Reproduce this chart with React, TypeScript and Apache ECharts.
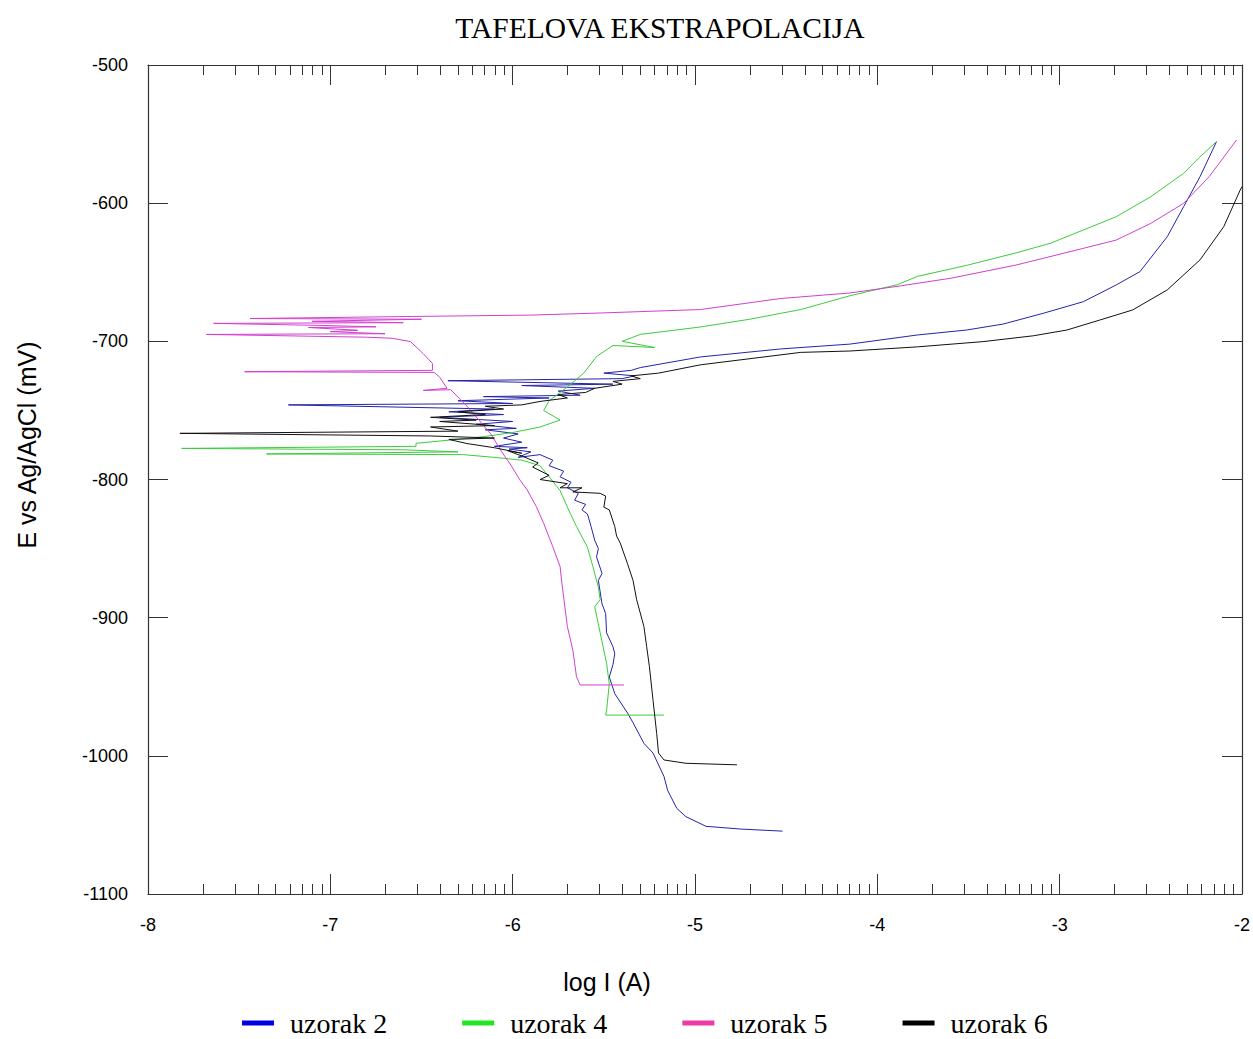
import React, { useEffect, useRef } from "react";
import * as echarts from "echarts";

// ---- Data (log I [A], E [mV]) in scan order ----
const uzorak2: number[][] = [
  [-4.52, -1054.5], [-4.75, -1053], [-4.94, -1051], [-5.05, -1044], [-5.1, -1038],
  [-5.15, -1025], [-5.17, -1015], [-5.23, -998], [-5.28, -991], [-5.34, -976],
  [-5.37, -969], [-5.44, -955], [-5.47, -943], [-5.45, -934], [-5.44, -926],
  [-5.45, -921], [-5.485, -911], [-5.49, -897], [-5.51, -890], [-5.53, -873],
  [-5.51, -868], [-5.54, -856], [-5.53, -850], [-5.55, -844], [-5.57, -834],
  [-5.59, -825], [-5.62, -822], [-5.6, -818], [-5.66, -815], [-5.64, -810],
  [-5.7, -806], [-5.68, -802], [-5.74, -798], [-5.72, -794], [-5.8, -790],
  [-5.78, -786], [-5.85, -782], [-5.97, -784],
  [-5.9, -780], [-6.02, -778], [-5.92, -777], [-6.1, -776], [-5.95, -773],
  [-6.05, -770], [-5.97, -767], [-6.15, -764], [-5.98, -763], [-6.2, -760],
  [-6.0, -758], [-6.4, -755], [-6.05, -753], [-6.35, -751], [-6.1, -749],
  [-7.23, -746], [-6.0, -745], [-6.3, -743], [-5.8, -741], [-6.16, -740],
  [-5.63, -739], [-5.75, -736], [-5.55, -734], [-5.95, -732], [-5.45, -731],
  [-6.355, -728.5], [-5.4, -727], [-5.33, -725], [-5.5, -723], [-5.35, -721],
  [-5.3, -719], [-4.97, -711.3], [-4.53, -705.5], [-4.15, -702], [-3.78, -695.4],
  [-3.51, -691.8], [-3.31, -687.5], [-3.09, -679.7], [-2.87, -671.3], [-2.69, -659.2],
  [-2.56, -649.6], [-2.41, -624.3], [-2.32, -602.5], [-2.23, -580.8], [-2.14, -555.5],
];

const uzorak4: number[][] = [
  [-5.17, -970.5], [-5.49, -970.5], [-5.485, -967], [-5.47, -948], [-5.485, -933],
  [-5.52, -911], [-5.55, -892], [-5.52, -887], [-5.53, -878], [-5.56, -863],
  [-5.59, -849], [-5.65, -834], [-5.7, -820], [-5.74, -808], [-5.8, -798],
  [-5.85, -790], [-5.95, -786], [-6.1, -784], [-6.27, -782], [-7.35, -781.5],
  [-6.3, -780], [-6.6, -778.5], [-7.815, -777.5], [-6.53, -776], [-6.53, -773.8],
  [-6.34, -771.4], [-6.16, -769], [-6.0, -766], [-5.85, -762], [-5.74, -757],
  [-5.83, -750], [-5.8, -743], [-5.7, -733], [-5.61, -723], [-5.54, -711],
  [-5.45, -703], [-5.22, -704.5], [-5.4, -700], [-5.3, -695], [-4.97, -689.6],
  [-4.7, -684], [-4.42, -677], [-4.15, -667], [-3.89, -659], [-3.78, -653],
  [-3.51, -645], [-3.24, -636], [-3.05, -629], [-2.87, -619.4], [-2.69, -609.8],
  [-2.5, -595.3], [-2.32, -578.4], [-2.23, -566.4], [-2.14, -555.5],
];

const uzorak5: number[][] = [
  [-5.39, -948.7], [-5.63, -948.7], [-5.65, -942.7], [-5.66, -933], [-5.67, -923.4],
  [-5.7, -906.5], [-5.73, -875], [-5.74, -863], [-5.78, -848.6], [-5.83, -831.7],
  [-5.87, -819.7], [-5.92, -807.6], [-5.96, -800.4], [-6.01, -789.5], [-6.06, -780],
  [-6.12, -767], [-6.25, -747], [-6.34, -735], [-6.49, -735.5], [-6.36, -734],
  [-6.4, -726], [-6.43, -722.5], [-7.47, -722], [-6.44, -721], [-6.44, -716],
  [-6.49, -709], [-6.56, -700.2], [-6.66, -697.8], [-6.8, -697], [-7.68, -695],
  [-6.7, -694.5], [-7.0, -693], [-6.85, -692], [-7.12, -690], [-6.75, -689.5],
  [-7.05, -688.5], [-7.64, -687], [-6.6, -686.5], [-7.1, -685.5], [-6.5, -684],
  [-7.44, -683.5], [-6.55, -682], [-5.9, -681], [-5.52, -679.5], [-4.97, -677],
  [-4.53, -669], [-4.15, -665], [-3.88, -660], [-3.6, -654.4], [-3.24, -644.8],
  [-2.87, -632.7], [-2.69, -626.7], [-2.5, -614.6], [-2.32, -600.1], [-2.18, -580.8],
  [-2.03, -554.3],
];

const uzorak6: number[][] = [
  [-4.77, -1006.5], [-5.05, -1005.4], [-5.17, -1003], [-5.2, -998], [-5.21, -984],
  [-5.23, -960], [-5.25, -935.5], [-5.265, -921], [-5.28, -906.5], [-5.32, -887],
  [-5.34, -873], [-5.37, -861], [-5.41, -846], [-5.43, -841], [-5.44, -834],
  [-5.47, -822], [-5.5, -820], [-5.49, -812], [-5.52, -810], [-5.67, -809],
  [-5.62, -806], [-5.74, -806], [-5.7, -803], [-5.85, -800], [-5.8, -797],
  [-5.89, -791], [-5.86, -788], [-5.94, -783.5], [-6.03, -779],
  [-5.95, -781], [-6.1, -777], [-6.25, -774], [-6.35, -771], [-6.1, -770],
  [-6.45, -768.5], [-7.825, -766.6], [-6.3, -765], [-6.45, -762], [-6.1, -761],
  [-6.4, -758], [-6.2, -757], [-6.45, -755], [-6.15, -753], [-6.3, -751],
  [-6.05, -749], [-6.15, -747], [-5.95, -746], [-5.85, -743.5], [-5.7, -741],
  [-5.75, -738.5], [-5.6, -737], [-5.55, -734], [-5.4, -731], [-5.45, -729],
  [-5.3, -727], [-5.35, -725], [-5.2, -723], [-4.97, -717], [-4.42, -708],
  [-4.15, -707], [-3.78, -704], [-3.42, -700.2], [-3.145, -696], [-2.96, -691.8],
  [-2.78, -684.6], [-2.6, -677.3], [-2.41, -662.8], [-2.23, -641], [-2.1, -617],
  [-2.01, -590.5], [-2.0, -588],
];

const seriesNames = ["uzorak 2", "uzorak 4", "uzorak 5", "uzorak 6"];
const seriesData = [uzorak2, uzorak4, uzorak5, uzorak6];
const lineColors = ["#2424a8", "#3ccc3c", "#d040d0", "#111111"];
const legendColors = ["#0000e0", "#22e622", "#ee3aa8", "#000000"];

const xMin = -8;
const xMax = -2;
const yMin = -1100;
const yMax = -500;
const decades = [-8, -7, -6, -5, -4, -3];
const minorMultipliers = [2, 3, 4, 5, 6, 7, 8, 9];
const minorTickValues: number[] = [];
decades.forEach((d) => minorMultipliers.forEach((m) => minorTickValues.push(d + Math.log10(m))));

export default function App() {
  const ref = useRef<HTMLDivElement>(null);
  useEffect(() => {
    if (!ref.current) return;
    const chart = echarts.init(ref.current, undefined, { renderer: "svg" });
    const axisLine = { show: true, lineStyle: { color: "#333", width: 1.2 } };
    const tickStyle = { color: "#333", width: 1 };
    const sans = "'Liberation Sans', Arial, sans-serif";
    const serif = "'Liberation Serif', 'Times New Roman', serif";
    const plain = (v: number) => String(v);
    const gridBox = { left: 148, right: 11, top: 65, bottom: 145, containLabel: false, outerBoundsMode: "none" };
    const option: any = {
      animation: false,
      backgroundColor: "#fff",
      grid: [{ ...gridBox }, { ...gridBox }],
      xAxis: [
        {
          gridIndex: 0, type: "value", min: xMin, max: xMax, interval: 1, position: "bottom",
          axisLine, axisTick: { show: true, inside: true, length: 20, lineStyle: tickStyle },
          axisLabel: { fontSize: 18, fontFamily: sans, color: "#000", margin: 22, formatter: plain },
          splitLine: { show: false },
        },
        {
          gridIndex: 0, type: "value", min: xMin, max: xMax, interval: 1, position: "top",
          axisLine, axisTick: { show: true, inside: true, length: 20, lineStyle: tickStyle },
          axisLabel: { show: false }, splitLine: { show: false },
        },
        {
          gridIndex: 1, type: "value", min: xMin, max: xMax, interval: 1, position: "bottom",
          axisLine: { show: false },
          axisTick: { show: true, inside: true, length: 10, lineStyle: tickStyle, customValues: minorTickValues },
          axisLabel: { show: false }, splitLine: { show: false },
        },
        {
          gridIndex: 1, type: "value", min: xMin, max: xMax, interval: 1, position: "top",
          axisLine: { show: false },
          axisTick: { show: true, inside: true, length: 10, lineStyle: tickStyle, customValues: minorTickValues },
          axisLabel: { show: false }, splitLine: { show: false },
        },
      ],
      yAxis: [
        {
          gridIndex: 0, type: "value", min: yMin, max: yMax, interval: 100, position: "left",
          axisLine, axisTick: { show: true, inside: true, length: 20, lineStyle: tickStyle },
          axisLabel: { fontSize: 18, fontFamily: sans, color: "#000", margin: 20, formatter: plain },
          splitLine: { show: false },
        },
        {
          gridIndex: 0, type: "value", min: yMin, max: yMax, interval: 100, position: "right",
          axisLine, axisTick: { show: true, inside: true, length: 20, lineStyle: tickStyle },
          axisLabel: { show: false }, splitLine: { show: false },
        },
        { gridIndex: 1, type: "value", min: yMin, max: yMax, show: false },
      ],
      legend: {
        left: 242, top: 1009, padding: 0, itemWidth: 32, itemHeight: 5, itemGap: 75, icon: "rect",
        textStyle: { fontFamily: serif, fontSize: 28, lineHeight: 26, color: "#000", padding: [0, 0, 0, 11] },
        data: seriesNames.map((n, i) => ({ name: n, itemStyle: { color: legendColors[i] } })),
      },
      graphic: [
        {
          type: "text", x: 660, y: 28,
          style: { text: "TAFELOVA EKSTRAPOLACIJA", fontSize: 29.5, fontFamily: serif, fill: "#000", align: "center", verticalAlign: "middle" },
        },
        {
          type: "text", x: 27, y: 445, rotation: Math.PI / 2,
          style: { text: "E vs Ag/AgCl (mV)", fontSize: 25, fontFamily: sans, fill: "#000", align: "center", verticalAlign: "middle" },
        },
        {
          type: "text", x: 607, y: 982,
          style: { text: "log I (A)", fontSize: 25, fontFamily: sans, fill: "#000", align: "center", verticalAlign: "middle" },
        },
      ],
      series: seriesNames.map((n, i) => ({
        name: n, type: "line", xAxisIndex: 0, yAxisIndex: 0,
        data: seriesData[i], showSymbol: false, symbol: "none",
        lineStyle: { color: lineColors[i], width: 1 },
        itemStyle: { color: lineColors[i] },
      })),
    };
    chart.setOption(option);
    return () => chart.dispose();
  }, []);
  return <div ref={ref} style={{ position: "absolute", left: 0, top: 0, width: 1253, height: 1039 }} />;
}
